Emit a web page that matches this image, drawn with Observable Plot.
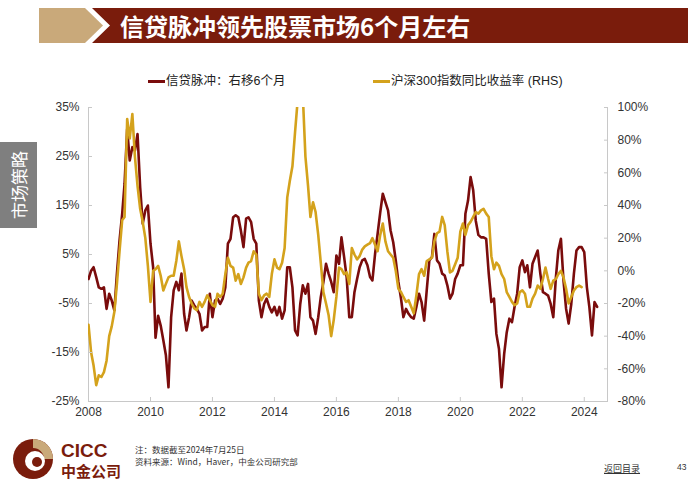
<!DOCTYPE html>
<html><head><meta charset="utf-8">
<script src="https://cdn.jsdelivr.net/npm/d3@7"></script>
<script src="https://cdn.jsdelivr.net/npm/@observablehq/plot@0.6"></script>
<style>
body{margin:0;width:700px;height:490px;position:relative;background:#fff;overflow:hidden;font-family:"Liberation Sans",Arial,"Noto Sans CJK SC",sans-serif}
.abs{position:absolute}
#title{left:120px;top:8px;height:35px;line-height:35px;color:#fff;font-family:"Noto Sans CJK SC",sans-serif;font-weight:700;font-size:24px;letter-spacing:0;white-space:nowrap}
#tab{left:0;top:142px;width:37px;height:86px;background:#7f7f7f}
#tabtxt{left:18px;top:185px;color:#fff;font-family:"Noto Sans CJK SC",sans-serif;font-size:17px;white-space:nowrap;transform:translate(-50%,-50%) rotate(-90deg)}
.leg{top:73px;font-size:12.5px;color:#222;font-family:"Liberation Sans",Arial,"Noto Sans CJK SC",sans-serif;white-space:nowrap;line-height:16px;display:flex;align-items:center}
.sw{display:inline-block;width:17px;height:3px;margin-right:1px}
#chart{left:30px;top:95px}
.note{left:135px;font-size:8.5px;color:#333;font-family:"Noto Sans CJK SC",sans-serif;white-space:nowrap}
</style></head><body>
<svg class="abs" style="left:0;top:0" width="700" height="50">
  <polygon points="39,8 85,8 103,25.5 85,43 39,43" fill="#c9a97a"/>
  <polygon points="92,8 688,8 688,43 92,43 110,25.5" fill="#7a1c0c"/>
</svg>
<div id="title" class="abs">信贷脉冲领先股票市场6个月左右</div>
<div id="tab" class="abs"></div>
<div id="tabtxt" class="abs">市场策略</div>
<div class="abs leg" style="left:148px"><span class="sw" style="background:#7a0c0c"></span>信贷脉冲：右移6个月</div>
<div class="abs leg" style="left:373px"><span class="sw" style="background:#d4a21c"></span>沪深300指数同比收益率 (RHS)</div>
<div id="chart" class="abs"></div>
<svg class="abs" style="left:0;top:430px" width="140" height="60">
  <circle cx="33" cy="29" r="20" fill="#7a1c0c"/>
  <path d="M33,9 A20,20 0 0 1 53,29 L44,29 A11,11 0 0 0 33,18 Z" fill="#c9a97a"/>
  <circle cx="35" cy="31" r="10" fill="#fff"/>
  <circle cx="37" cy="32" r="5" fill="#7a1c0c"/>
  <text x="61" y="27" font-family="Liberation Sans,Arial" font-weight="700" font-size="19" fill="#7a1c0c">CICC</text>
  <text x="61" y="47" font-family="Noto Sans CJK SC" font-weight="700" font-size="15" fill="#7a1c0c">中金公司</text>
</svg>
<div class="abs note" style="top:443px">注：数据截至2024年7月25日</div>
<div class="abs note" style="top:455px">资料来源：Wind，Haver，中金公司研究部</div>
<div class="abs" style="left:604px;top:462px;font-size:9px;color:#333;text-decoration:underline;font-family:'Noto Sans CJK SC',sans-serif">返回目录</div>
<div class="abs" style="left:677px;top:462px;font-size:8.5px;color:#333">43</div>
<script>
// 信贷脉冲：右移6个月 (%), monthly from 2008-01
const creditPulse = [
 0.0,1.7,2.4,0.4,-1.7,-2.0,-1.7,-6.1,-3.0,-4.4,-6.4,1.1,
 7.9,13.3,19.4,30.6,24.2,26.9,26.2,29.6,18.7,11.3,14.0,15.0,
 7.2,2.4,-12.0,-7.5,-9.5,-12.5,-15.5,-22.1,-7.8,-2.3,-0.6,-2.3,
 1.1,-7.1,-10.5,-7.8,-4.4,-5.4,-6.1,-7.1,-10.5,-9.8,-9.8,-3.0,
 -7.8,-4.4,-4.0,-5.1,-4.0,-1.7,7.2,8.2,12.6,13.0,12.6,9.9,
 6.5,12.3,12.6,11.6,8.2,7.2,-4.4,-7.8,-5.1,-4.0,-5.7,-6.8,
 -5.7,-7.4,-5.7,-8.1,-6.4,2.4,2.4,-1.7,-10.5,-11.5,-5.1,-1.3,
 -3.0,-1.0,-7.8,-8.5,-11.2,-7.8,-3.7,-0.6,3.1,1.1,-0.6,-2.7,
 4.8,3.1,8.5,4.5,0.4,-7.8,-7.8,-2.7,0.0,2.4,3.8,4.1,
 2.8,0.4,-0.3,5.1,9.2,13.6,17.4,15.7,14.0,9.9,7.5,3.8,
 -0.6,-4.0,-7.8,-6.1,-7.1,-7.8,-8.1,-5.7,-3.0,-4.7,-8.5,-2.3,
 3.8,4.5,9.2,3.8,3.1,1.1,0.7,-1.3,-4.0,-3.0,0.0,1.1,
 2.8,2.8,13.3,16.0,20.8,18.1,11.9,9.0,8.5,8.5,8.2,1.1,
 -4.7,-4.0,-11.2,-14.3,-22.1,-15.3,-10.9,-8.1,-8.8,-5.7,-3.0,2.4,
 3.8,1.4,2.8,-1.7,3.1,4.5,5.8,1.1,-2.7,-3.0,-3.4,-5.1,
 -7.8,0.4,5.8,8.2,-0.3,-6.1,-9.1,-5.1,1.1,5.8,6.5,6.5,
 5.5,-1.7,-5.7,-11.5,-4.7,-5.7
];
// 沪深300指数同比收益率 (RHS, %), monthly from 2008-01
const csi300Yoy = [
 -33,-50,-58,-70,-64,-65,-62,-55,-40,-34,-25,-8,
 12,31,33,93,81,96,70,52,38,30,20,3,
 -19,0,1,3,-3,-12,-8,-4,-3,-3,6,18,
 9,1,-10,-16,-20,-23,-24,-19,-22,-19,-15,-18,
 -21,-22,-14,-16,-14,-2,8,3,2,-6,-2,-8,
 -4,2,5,6,12,10,-14,-18,-15,-14,-16,-2,
 7,2,1,5,14,45,55,64,85,104,125,108,
 70,52,33,42,36,22,5,-13,-20,-27,-40,-30,
 -16,2,1,-2,-1,-8,14,10,7,9,13,15,
 16,17,20,16,12,22,29,18,12,10,8,0,
 -11,-13,-16,-19,-18,-22,-26,-15,-2,1,-3,6,
 7,8,18,23,24,33,28,12,-1,0,4,8,
 24,29,22,28,30,33,36,35,37,38,35,33,
 9,1,5,3,-2,-5,-13,-16,-19,-21,-20,-13,
 -12,-14,-22,-22,-17,-14,-9,-11,-5,2,-5,-11,
 -6,-5,-2,0,-4,-11,-20,-16,-12,-10,-9,-10
];
const leftTicks = [-25,-15,-5,5,15,25,35];
const rightTicks = [-80,-60,-40,-20,0,20,40,60,80,100];
const yearTicks = [2008,2010,2012,2014,2016,2018,2020,2022,2024];

const red = "#7a0c0c", gold = "#d4a21c", axisGrey = "#c8c8c8";
const start = new Date(Date.UTC(2008,0,1));
const toLeft = r => (r + 80) / 3 - 25;
const toRight = l => Math.round((l + 25) * 3 - 80);
const creditRows = creditPulse.map((v,i)=>({date: d3.utcMonth.offset(start,i), value: v}));
const stockRows = csi300Yoy.map((v,i)=>({date: d3.utcMonth.offset(start,i), value: toLeft(v)}));
const xDomain = [start, new Date(Date.UTC(2024,9,1))];

const chart = Plot.plot({
  width: 630, height: 336,
  marginLeft: 58, marginRight: 53, marginTop: 12, marginBottom: 30,
  style: {fontFamily: "Liberation Sans, Arial, sans-serif", fontSize: "12px", background: "transparent"},
  x: {type: "utc", domain: xDomain},
  y: {domain: [-25, 35]},
  marks: [
    Plot.ruleY([-25], {stroke: axisGrey}),
    Plot.ruleX([xDomain[0], xDomain[1]], {stroke: axisGrey}),
    Plot.lineY(creditRows, {x: "date", y: "value", stroke: red, strokeWidth: 2.6, clip: true}),
    Plot.lineY(stockRows, {x: "date", y: "value", stroke: gold, strokeWidth: 2.6, clip: true}),
    Plot.axisY({anchor: "left", ticks: leftTicks, tickFormat: d => d + "%", tickSize: -4, tickPadding: 13, stroke: axisGrey, fill: "#333", label: null}),
    Plot.axisY({anchor: "right", ticks: rightTicks.map(toLeft), tickFormat: d => toRight(d) + "%", tickSize: -4, tickPadding: 14, stroke: axisGrey, fill: "#333", label: null}),
    Plot.axisX({ticks: yearTicks.map(y => new Date(Date.UTC(y,0,1))), tickFormat: d3.utcFormat("%Y"), tickSize: -4, tickPadding: 10, stroke: axisGrey, fill: "#333", label: null})
  ]
});
document.getElementById("chart").appendChild(chart);
</script>
</body></html>
